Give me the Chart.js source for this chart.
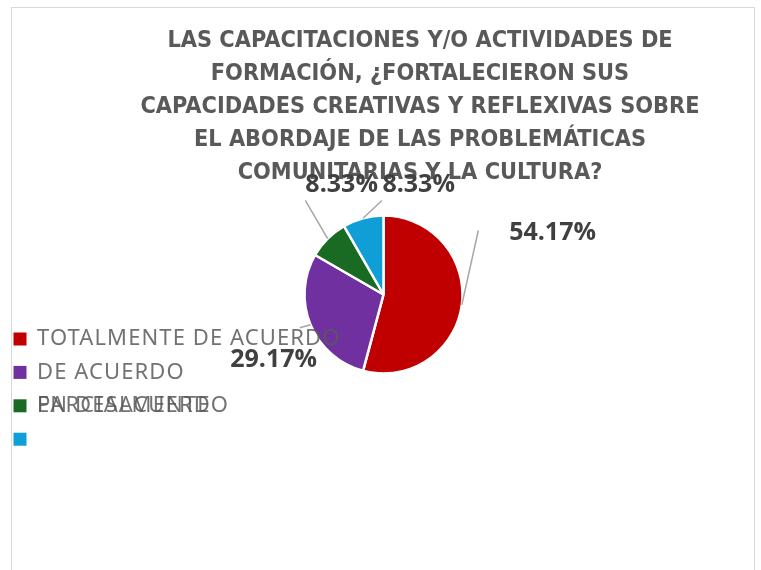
<!DOCTYPE html>
<html>
<head>
<meta charset="utf-8">
<script src="https://cdn.jsdelivr.net/npm/chart.js@4.4.0/dist/chart.umd.min.js"></script>
<style>
  html, body { margin: 0; padding: 0; background: #fff; }
  #wrap { position: relative; width: 761px; height: 570px; }
  #frame { position: absolute; left: 11px; top: 7px; width: 742px; height: 570px;
           border: 1px solid #d9d9d9; border-bottom: none; }
  #my_canvas { position: absolute; left: 0; top: 0; }
</style>
</head>
<body>
<div id="wrap">
  <div id="frame"></div>
  <canvas id="my_canvas" width="761" height="570"></canvas>
</div>
<script>
// data
var titleLines = [
    'LAS CAPACITACIONES Y/O ACTIVIDADES DE',
    'FORMACIÓN, ¿FORTALECIERON SUS',
    'CAPACIDADES CREATIVAS Y REFLEXIVAS SOBRE',
    'EL ABORDAJE DE LAS PROBLEMÁTICAS',
    'COMUNITARIAS Y LA CULTURA?'
];
var categories = ['TOTALMENTE DE ACUERDO', 'DE ACUERDO', 'PARCIALMENTE', ''];
var extraLegendText = ['', '', 'EN DESACUERDO', '']; // drawn over the same row, like the original
var values = [54.17, 29.17, 8.33, 8.33];
var colors = ['#C00000', '#7030A0', '#196B24', '#0F9ED5'];

// label placement, in radius units from the pie centre
var labelPos  = [[2.14, -0.78], [-1.39, 0.83], [-0.53, -1.39], [0.445, -1.39]];
var leaderEnd = [[1.20, -0.81], [-1.06, 0.42], [-0.99, -1.19], [-0.02, -1.19]];

var titlePlugin = {
    id: 'bigTitle',
    beforeDatasetsDraw: function(chart) {
        var ctx = chart.ctx;
        ctx.save();
        ctx.fillStyle = '#595959';
        ctx.font = 'bold 23.3px "DejaVu Sans Condensed", sans-serif';
        ctx.textAlign = 'center';
        ctx.textBaseline = 'middle';
        for (var i = 0; i < titleLines.length; i++) {
            ctx.fillText(titleLines[i], 420, 41 + i * 33);
        }
        ctx.restore();
    }
};

var labelPlugin = {
    id: 'pctLabels',
    afterDatasetsDraw: function(chart) {
        var ctx = chart.ctx;
        var arcs = chart.getDatasetMeta(0).data;
        ctx.save();
        for (var i = 0; i < arcs.length; i++) {
            var a = arcs[i].getProps(['x', 'y', 'startAngle', 'endAngle', 'outerRadius'], true);
            var mid = (a.startAngle + a.endAngle) / 2;
            var r = a.outerRadius;
            // leader line
            ctx.strokeStyle = '#a6a6a6';
            ctx.lineWidth = 1.5;
            ctx.beginPath();
            ctx.moveTo(a.x + Math.cos(mid) * r, a.y + Math.sin(mid) * r);
            ctx.lineTo(a.x + leaderEnd[i][0] * r, a.y + leaderEnd[i][1] * r);
            ctx.stroke();
        }
        // legend (drawn before the value labels so they sit on top)
        ctx.textAlign = 'left';
        ctx.textBaseline = 'middle';
        ctx.font = '22px "Noto Sans", sans-serif';
        ctx.letterSpacing = '1.1px';
        for (var j = 0; j < categories.length; j++) {
            var y = 339 + j * 33.4;
            ctx.fillStyle = colors[j];
            ctx.fillRect(13.5, y - 6.5, 13, 13);
            ctx.fillStyle = 'rgba(89,89,89,0.85)';
            ctx.fillText(categories[j], 37, y);
            if (extraLegendText[j]) ctx.fillText(extraLegendText[j], 37, y);
        }
        ctx.letterSpacing = '0px';
        ctx.fillStyle = '#404040';
        ctx.textAlign = 'center';
        ctx.font = 'bold 25px "Open Sans", sans-serif';
        for (var k = 0; k < arcs.length; k++) {
            var p = arcs[k].getProps(['x', 'y', 'outerRadius'], true);
            ctx.fillText(values[k].toFixed(2) + '%', p.x + labelPos[k][0] * p.outerRadius,
                         p.y + labelPos[k][1] * p.outerRadius);
        }
        ctx.restore();
    }
};

var ctx = document.getElementById('my_canvas');
var pieChart = new Chart(ctx, {
    type: 'pie',
    data: {
        labels: categories,
        datasets: [{
            data: values,
            backgroundColor: colors,
            borderColor: '#ffffff',
            borderWidth: 2.5,
            radius: 79
        }]
    },
    options: {
        responsive: false,
        animation: false,
        layout: { padding: { left: 200, right: 194, top: 200, bottom: 181 } },
        plugins: {
            legend: { display: false },
            tooltip: { enabled: false }
        }
    },
    plugins: [titlePlugin, labelPlugin]
});
</script>
</body>
</html>
